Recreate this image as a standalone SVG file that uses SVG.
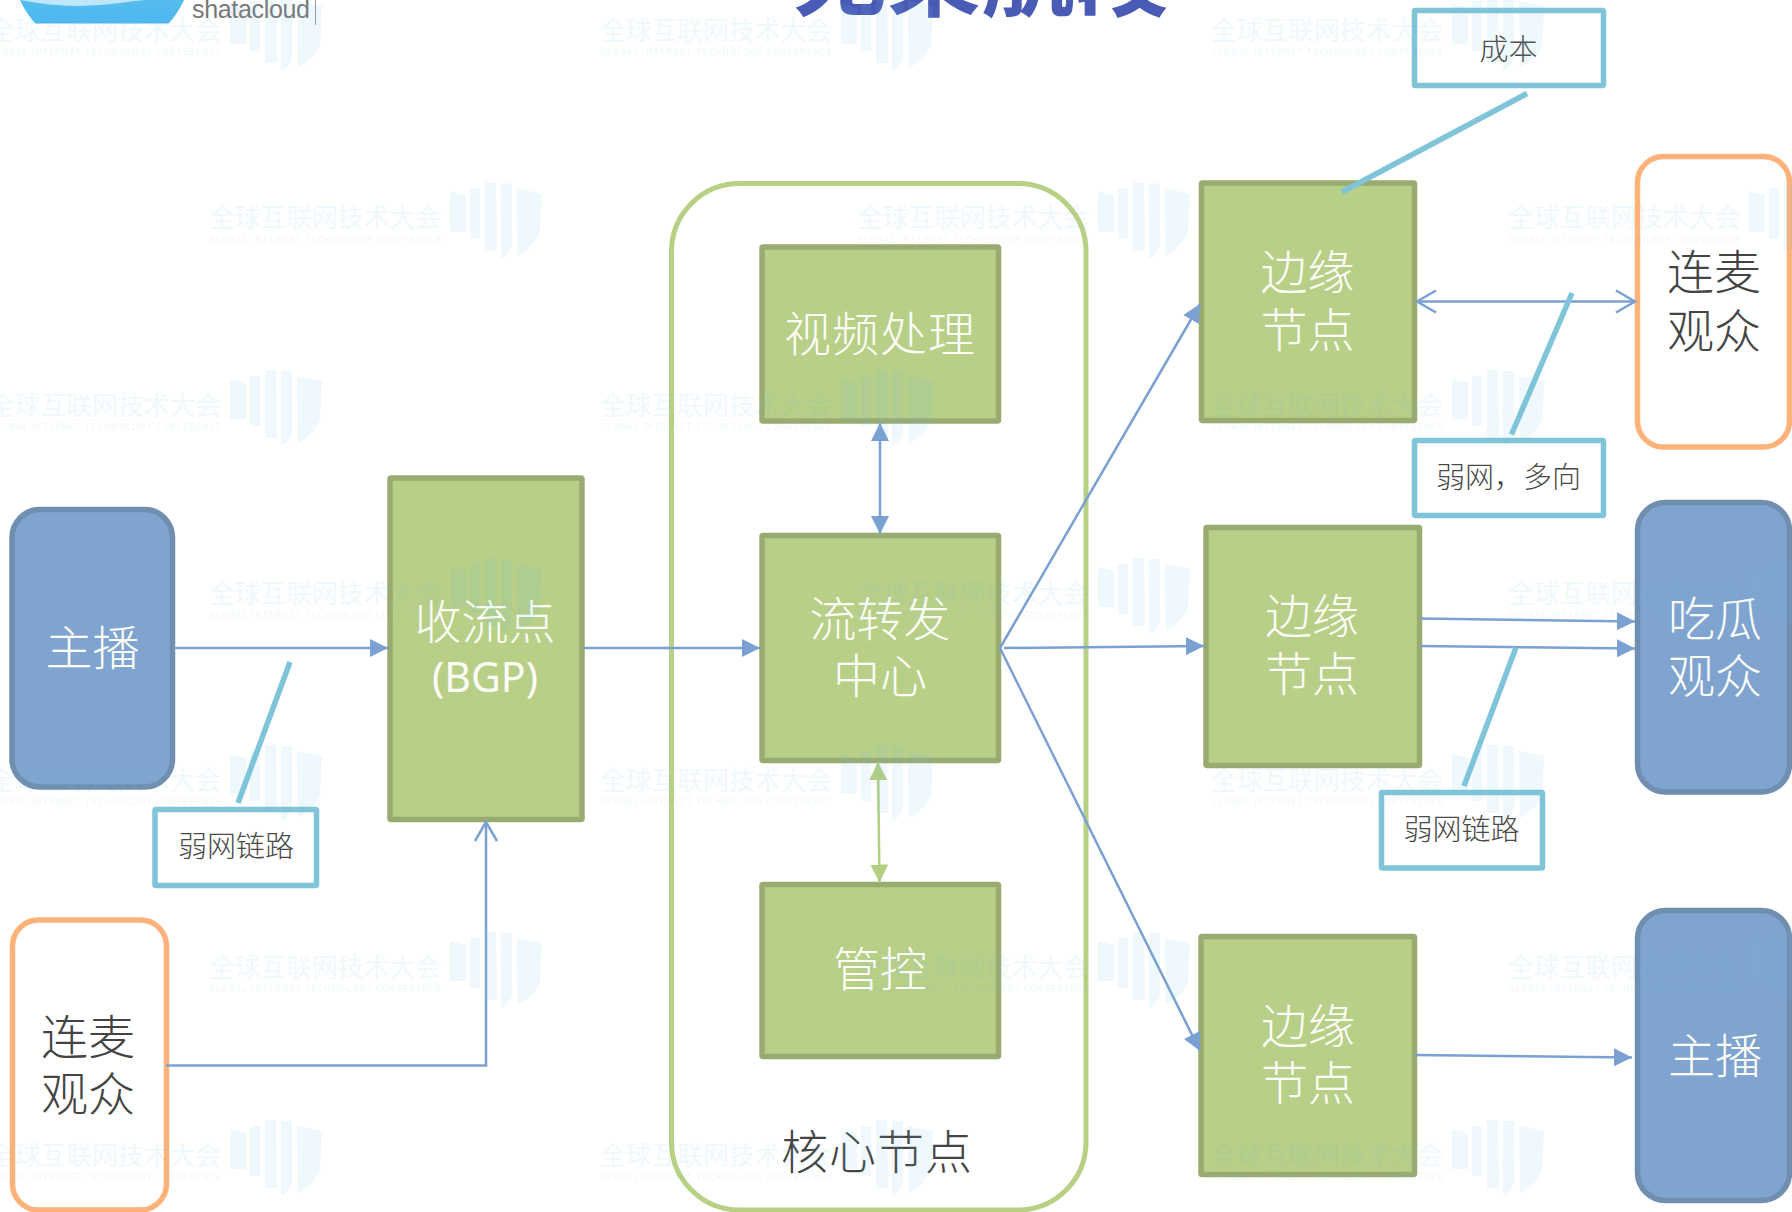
<svg xmlns="http://www.w3.org/2000/svg" xmlns:xlink="http://www.w3.org/1999/xlink" width="1792" height="1212" viewBox="0 0 1792 1212">
<style>
text{font-family:"Noto Sans CJK SC","Noto Sans",sans-serif;text-anchor:middle}
.g{fill:#b7cf87;stroke:#9aab72;stroke-width:5.5}
.b{fill:#7fa4cf;stroke:#708eb0;stroke-width:5.5}
.o{fill:#fff;stroke:#fdb27a;stroke-width:5.5}
.c{fill:#fff;stroke:#7fc4d8;stroke-width:5.5}
.l{font-size:47px;font-weight:300;fill:#fdfdf8}
.d{font-size:47px;font-weight:300;fill:#444}
.s{font-size:29px;font-weight:300;fill:#4a4a4a}
.a{fill:none;stroke:#7ba0d2;stroke-width:2.5}
.k{fill:none;stroke:#7fc4d8;stroke-width:5.5}
.w{text-anchor:start;fill:#6ec1e8}
</style>
<defs>
<marker id="tri" markerUnits="userSpaceOnUse" markerWidth="18" markerHeight="18" refX="16" refY="8" orient="auto-start-reverse" viewBox="0 0 16 16"><path d="M0 0L16 8L0 16Z" fill="#7ba0d2"/></marker>
<marker id="trig" markerUnits="userSpaceOnUse" markerWidth="18" markerHeight="18" refX="16" refY="8" orient="auto-start-reverse" viewBox="0 0 16 16"><path d="M0 0L16 8L0 16Z" fill="#b3cf82"/></marker>
<marker id="open" markerUnits="userSpaceOnUse" markerWidth="24" markerHeight="28" refX="21" refY="13" orient="auto-start-reverse" viewBox="0 0 24 26"><path d="M2 2L21 13L2 24" fill="none" stroke="#7ba0d2" stroke-width="2.5"/></marker>
<linearGradient id="sky" x1="0" y1="0" x2="0" y2="1"><stop offset="0" stop-color="#8fd6f6"/><stop offset="1" stop-color="#3fb2ec"/></linearGradient>
<clipPath id="logoClip"><rect x="0" y="0" width="190" height="23.5"/></clipPath>
<g id="wm" opacity="0.1">
<text class="w" x="0" y="9.5" font-size="25.8" textLength="232">全球互联网技术大会</text>
<text class="w" x="0" y="25" font-size="8.5" textLength="232">GLOBAL INTERNET TECHNOLOGY CONFERENCE</text>
<path fill="#6ec1e8" transform="translate(0 -12)" d="M241 -14l16 4v36h-16zM261 -17h10v50h-10zM276 -23h11l1 68h-12zM292 -22h11v58q0 10-9 16h-2zM308 -17l25 5 -2 38q-4 14-22 24z"/>
</g>
</defs>
<rect width="1792" height="1212" fill="#fff"/>
<g id="logo">
<g clip-path="url(#logoClip)"><circle cx="102" cy="-37" r="90" fill="url(#sky)"/><path d="M20 0Q70 10 120 3T185 0V-5H20Z" fill="#d8f1fb" opacity=".8"/></g>
<text x="192" y="18" font-size="25" fill="#777" style="font-family:'Liberation Sans',sans-serif;text-anchor:start" textLength="118">shatacloud</text>
<path d="M315.500 0V25" stroke="#999" stroke-width="1"/>
</g>
<text id="title" x="981" y="9" font-size="94" font-weight="700" fill="#4a5bb5">无桨航段</text>

<g id="core"><rect x="671.500" y="183.500" width="414.500" height="1026.500" rx="68" fill="#fff" stroke="#b8d083" stroke-width="5"/><text class="d" x="877" y="1169" letter-spacing="1">核心节点</text></g>

<g id="host-left"><rect class="b" x="12" y="509.500" width="160.500" height="277.500" rx="28"/><text class="l" x="92.500" y="664.500">主播</text></g>
<g id="guest-left"><rect class="o" x="12.500" y="920" width="154" height="290" rx="26"/><text class="d" x="88" y="1054">连麦</text><text class="d" x="88" y="1111">观众</text></g>
<g id="ingest"><rect class="g" x="390" y="478" width="192" height="341.500" rx="1"/><text class="l" x="485" y="639">收流点</text><text x="485" y="692" font-size="41" fill="#fdfdf8" style="font-family:'Noto Sans',sans-serif">(BGP)</text></g>
<g id="video"><rect class="g" x="762" y="247" width="236.500" height="174" rx="1"/><text class="l" x="880" y="351" letter-spacing="1">视频处理</text></g>
<g id="relay"><rect class="g" x="762" y="535.500" width="236.500" height="225" rx="1"/><text class="l" x="880" y="636">流转发</text><text class="l" x="880" y="693">中心</text></g>
<g id="control"><rect class="g" x="762" y="884.500" width="236.500" height="172" rx="1"/><text class="l" x="880" y="986">管控</text></g>
<g id="edge1"><rect class="g" x="1201.500" y="183" width="213" height="237.500" rx="1"/><text class="l" x="1307.500" y="289">边缘</text><text class="l" x="1307.500" y="347">节点</text></g>
<g id="edge2"><rect class="g" x="1206" y="527.500" width="213.500" height="238" rx="1"/><text class="l" x="1312" y="633">边缘</text><text class="l" x="1312" y="691">节点</text></g>
<g id="edge3"><rect class="g" x="1201" y="936.500" width="213.500" height="238" rx="1"/><text class="l" x="1308" y="1043">边缘</text><text class="l" x="1308" y="1100">节点</text></g>
<g id="guest-right"><rect class="o" x="1637.500" y="156.500" width="152" height="290.500" rx="26"/><text class="d" x="1714" y="289">连麦</text><text class="d" x="1714" y="348">观众</text></g>
<g id="viewer"><rect class="b" x="1637.500" y="502.500" width="152" height="289.500" rx="28"/><text class="l" x="1715" y="636">吃瓜</text><text class="l" x="1715" y="693">观众</text></g>
<g id="host-right"><rect class="b" x="1637.500" y="910.500" width="152" height="290" rx="28"/><text class="l" x="1715" y="1073">主播</text></g>

<g id="note-cost"><rect class="c" x="1414.500" y="10.500" width="189" height="75" rx="1"/><text class="s" x="1508.500" y="60">成本</text></g>
<g id="note-multi"><rect class="c" x="1414.500" y="440.500" width="189" height="75" rx="1"/><text class="s" x="1508.500" y="488">弱网，多向</text></g>
<g id="note-left"><rect class="c" x="155" y="809.500" width="161.500" height="76" rx="1"/><text class="s" x="236" y="857">弱网链路</text></g>
<g id="note-right"><rect class="c" x="1381.500" y="792.500" width="161" height="75.500" rx="1"/><text class="s" x="1461.500" y="840">弱网链路</text></g>

<g id="connectors">
<path class="a" d="M174 648H388" marker-end="url(#tri)"/>
<path class="a" d="M584 648H760" marker-end="url(#tri)"/>
<path class="a" d="M166 1065.500H486V822" marker-end="url(#open)"/>
<path class="a" d="M880 423V534" marker-start="url(#tri)" marker-end="url(#tri)"/>
<path d="M878 762L879.500 882.500" fill="none" stroke="#b3cf82" stroke-width="2.500" marker-start="url(#trig)" marker-end="url(#trig)"/>
<path class="a" d="M1000 648L1200 304" marker-end="url(#tri)"/>
<path class="a" d="M1004 648L1204 646" marker-end="url(#tri)"/>
<path class="a" d="M1000 648L1200 1051" marker-end="url(#tri)"/>
<path class="a" d="M1417 301.500H1635" marker-start="url(#open)" marker-end="url(#open)"/>
<path class="a" d="M1420 618.500L1635 621.500" marker-end="url(#tri)"/>
<path class="a" d="M1420 646L1635 648.500" marker-end="url(#tri)"/>
<path class="a" d="M1415 1055L1632 1057.500" marker-end="url(#tri)"/>
<path class="k" d="M1527 93.500L1342 192"/>
<path class="k" d="M1572 293L1511.500 434.500"/>
<path class="k" d="M290 662L238 803"/>
<path class="k" d="M1516 647.500L1464 786"/>
</g>

<g id="watermarks">
<use href="#wm" x="-11" y="30"/><use href="#wm" x="600" y="30"/><use href="#wm" x="1211" y="30"/>
<use href="#wm" x="209" y="217.500"/><use href="#wm" x="857" y="217.500"/><use href="#wm" x="1508" y="217.500"/>
<use href="#wm" x="-11" y="405"/><use href="#wm" x="600" y="405"/><use href="#wm" x="1211" y="405"/>
<use href="#wm" x="209" y="593"/><use href="#wm" x="857" y="593"/><use href="#wm" x="1508" y="593"/>
<use href="#wm" x="-11" y="780"/><use href="#wm" x="600" y="780"/><use href="#wm" x="1211" y="780"/>
<use href="#wm" x="209" y="967"/><use href="#wm" x="857" y="967"/><use href="#wm" x="1508" y="967"/>
<use href="#wm" x="-11" y="1155"/><use href="#wm" x="600" y="1155"/><use href="#wm" x="1211" y="1155"/>
</g>
</svg>
